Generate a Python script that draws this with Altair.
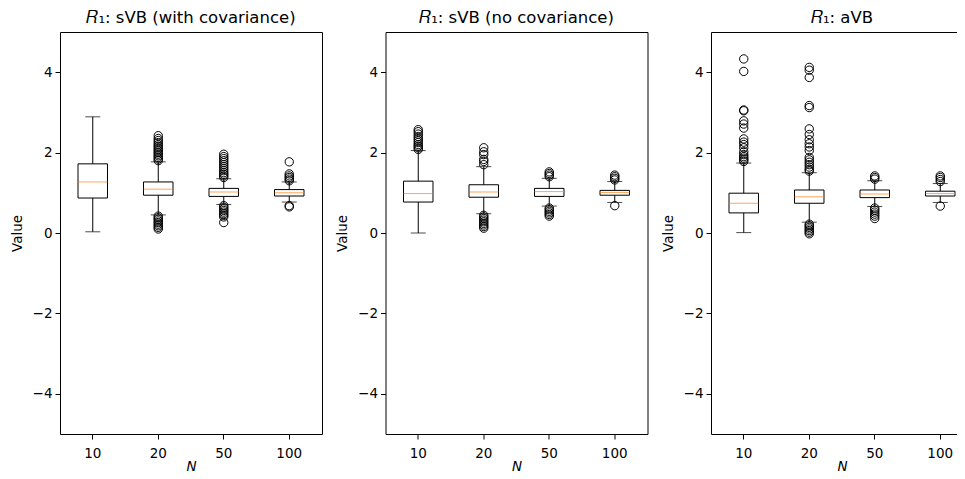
import altair as alt
import pandas as pd

N_LABELS = ["10", "20", "50", "100"]
TITLES = ["𝑅₁: sVB (with covariance)", "𝑅₁: sVB (no covariance)", "𝑅₁: aVB"]

# box statistics per panel (order of N_LABELS)
LO = [[0.03, 0.45, 0.71, 0.77], [0.00, 0.48, 0.67, 0.76], [0.01, 0.27, 0.66, 0.76]]
Q1 = [[0.87, 0.94, 0.91, 0.92], [0.77, 0.89, 0.91, 0.94], [0.50, 0.74, 0.88, 0.92]]
MED = [[1.27, 1.09, 1.02, 1.00], [0.98, 1.02, 1.03, 1.01], [0.74, 0.90, 0.97, 0.98]]
Q3 = [[1.72, 1.27, 1.11, 1.08], [1.29, 1.20, 1.11, 1.06], [0.99, 1.07, 1.07, 1.04]]
HI = [[2.89, 1.77, 1.35, 1.27], [2.05, 1.65, 1.36, 1.28], [1.74, 1.50, 1.30, 1.23]]

# outliers per panel, per N
OUT_P1 = [
    [],
    [1.80, 1.84, 1.88, 1.92, 1.96, 2.00, 2.04, 2.08, 2.12, 2.16, 2.20, 2.25, 2.30, 2.35, 2.42,
     0.42, 0.38, 0.34, 0.30, 0.26, 0.22, 0.18, 0.14, 0.10],
    [1.38, 1.42, 1.46, 1.50, 1.55, 1.60, 1.65, 1.70, 1.75, 1.80, 1.85, 1.90, 1.96,
     0.68, 0.64, 0.60, 0.56, 0.52, 0.48, 0.44, 0.40, 0.26],
    [1.30, 1.34, 1.38, 1.42, 1.47, 1.77, 0.68, 0.65],
]
OUT_P2 = [
    [2.08, 2.12, 2.16, 2.20, 2.25, 2.30, 2.35, 2.40, 2.46, 2.52, 2.57],
    [1.70, 1.78, 1.83, 1.95, 2.02, 2.12,
     0.44, 0.40, 0.36, 0.32, 0.28, 0.24, 0.20, 0.16, 0.12],
    [1.40, 1.44, 1.48, 1.52, 0.62, 0.58, 0.54, 0.50, 0.46, 0.42],
    [1.32, 1.36, 1.40, 1.44, 0.68],
]
OUT_P3 = [
    [1.78, 1.82, 1.86, 1.90, 1.95, 2.02, 2.12, 2.20, 2.26, 2.34, 2.61, 2.71, 2.79, 3.04, 3.06, 4.02, 4.33],
    [4.12, 4.05, 3.87, 3.17, 3.12, 2.59, 2.45, 2.32, 2.22, 2.14, 2.05, 1.88, 1.82, 1.76, 1.70, 1.64, 1.58, 1.54,
     0.22, 0.18, 0.14, 0.10, 0.06, 0.02, -0.02],
    [1.34, 1.38, 1.42, 0.62, 0.57, 0.52, 0.47, 0.42, 0.36],
    [1.28, 1.33, 1.38, 1.42, 0.67],
]
OUTLIERS = [OUT_P1, OUT_P2, OUT_P3]

FONT = "DejaVu Sans"
W, H = 262, 402
PAD_L, PAD_T = 52, 24
SVG_W, SVG_H = 949, 463


def panel(i):
    stats = pd.DataFrame({
        "N": N_LABELS, "lo": LO[i], "q1": Q1[i], "med": MED[i], "q3": Q3[i], "hi": HI[i]
    })
    rows = []
    for n, vals in zip(N_LABELS, OUTLIERS[i]):
        for v in vals:
            rows.append({"N": n, "v": v})
    outl = pd.DataFrame(rows, columns=["N", "v"])

    xenc = alt.X("N:N", sort=N_LABELS,
                 scale=alt.Scale(domain=N_LABELS, paddingInner=0.55, paddingOuter=0.275),
                 axis=alt.Axis(title="N", labelAngle=0, titleFontStyle="italic",
                               labelPadding=7, titlePadding=0))
    yscale = alt.Scale(domain=[-5, 5], nice=False, zero=False)
    yaxis = alt.Axis(title="Value", values=[-4, -2, 0, 2, 4], format="d")

    base = alt.Chart(stats)
    whisk = base.mark_rule(color="black", strokeWidth=1).encode(
        x=xenc, y=alt.Y("lo:Q", scale=yscale, axis=yaxis), y2="hi:Q")
    cap_lo = base.mark_tick(color="black", size=15, thickness=1).encode(
        x=xenc, y=alt.Y("lo:Q", scale=yscale))
    cap_hi = base.mark_tick(color="black", size=15, thickness=1).encode(
        x=xenc, y=alt.Y("hi:Q", scale=yscale))
    box = base.mark_bar(fill="white", stroke="black", strokeWidth=1).encode(
        x=xenc, y=alt.Y("q1:Q", scale=yscale), y2="q3:Q")
    med = base.mark_tick(color="#ff7f0e", size=29.5, thickness=1).encode(
        x=xenc, y=alt.Y("med:Q", scale=yscale))
    pts = alt.Chart(outl).mark_point(shape="circle", filled=False, stroke="black",
                                     strokeWidth=1, size=70, opacity=1).encode(
        x=xenc, y=alt.Y("v:Q", scale=yscale))

    return alt.layer(whisk, box, cap_lo, cap_hi, med, pts).properties(
        width=W, height=H,
        title=alt.TitleParams(text=TITLES[i], font=FONT, fontSize=16.5, fontWeight="normal",
                              color="black", offset=6))


chart = alt.hconcat(panel(0), panel(1), panel(2), spacing=11.5).properties(
    autosize=alt.AutoSizeParams(type="none"),
    padding={"left": PAD_L, "top": PAD_T, "right": SVG_W - PAD_L, "bottom": SVG_H - PAD_T}
).configure_view(
    stroke="black", strokeWidth=1
).configure_axis(
    grid=False, domain=False, tickColor="black", tickSize=5, tickWidth=1,
    labelColor="black", labelFont=FONT, labelFontSize=13.5, labelPadding=3,
    titleColor="black", titleFont=FONT, titleFontSize=13.5, titleFontWeight="normal",
    titlePadding=6
).configure_axisY(titlePadding=8)

chart.save("out.html", embed_options={"renderer": "svg", "actions": False})
